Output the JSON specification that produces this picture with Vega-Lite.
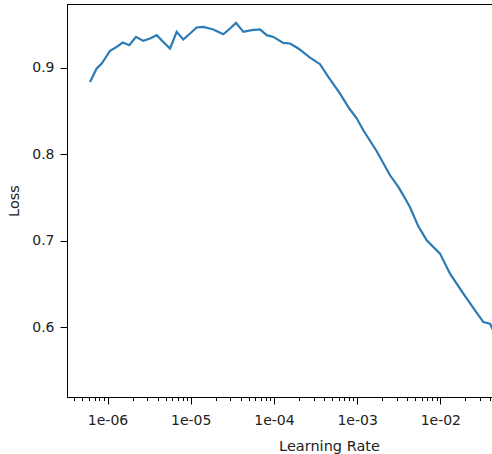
{
  "$schema": "https://vega.github.io/schema/vega-lite/v6.json",
  "autosize": "none",
  "padding": {"left": 67, "top": 4, "right": 0, "bottom": 57},
  "width": 524,
  "height": 393,
  "background": "white",
  "data": {"values": [
    {"lr": 6.162e-7, "loss": 0.8838},
    {"lr": 6.75e-7, "loss": 0.8915},
    {"lr": 7.415e-7, "loss": 0.8993},
    {"lr": 8.517e-7, "loss": 0.9051},
    {"lr": 9.33e-7, "loss": 0.9109},
    {"lr": 1.072e-6, "loss": 0.9197},
    {"lr": 1.29e-6, "loss": 0.9243},
    {"lr": 1.523e-6, "loss": 0.9294},
    {"lr": 1.828e-6, "loss": 0.9263},
    {"lr": 2.2e-6, "loss": 0.9359},
    {"lr": 2.694e-6, "loss": 0.9313},
    {"lr": 3.243e-6, "loss": 0.9341},
    {"lr": 3.903e-6, "loss": 0.9379},
    {"lr": 4.685e-6, "loss": 0.9301},
    {"lr": 5.639e-6, "loss": 0.9225},
    {"lr": 6.787e-6, "loss": 0.9417},
    {"lr": 8.149e-6, "loss": 0.9329},
    {"lr": 9.81e-6, "loss": 0.9398},
    {"lr": 1.181e-5, "loss": 0.9468},
    {"lr": 1.417e-5, "loss": 0.9475},
    {"lr": 1.869e-5, "loss": 0.9445},
    {"lr": 2.465e-5, "loss": 0.939},
    {"lr": 2.968e-5, "loss": 0.9456},
    {"lr": 3.503e-5, "loss": 0.9521},
    {"lr": 4.287e-5, "loss": 0.9417},
    {"lr": 5.41e-5, "loss": 0.9437},
    {"lr": 6.807e-5, "loss": 0.9445},
    {"lr": 8.194e-5, "loss": 0.9379},
    {"lr": 9.835e-5, "loss": 0.9359},
    {"lr": 1.297e-4, "loss": 0.929},
    {"lr": 1.561e-4, "loss": 0.9283},
    {"lr": 1.965e-4, "loss": 0.9225},
    {"lr": 2.716e-4, "loss": 0.912},
    {"lr": 3.582e-4, "loss": 0.9043},
    {"lr": 4.506e-4, "loss": 0.8896},
    {"lr": 6.23e-4, "loss": 0.8703},
    {"lr": 8.057e-4, "loss": 0.853},
    {"lr": 9.89e-4, "loss": 0.8417},
    {"lr": 1.187e-3, "loss": 0.8278},
    {"lr": 1.72e-3, "loss": 0.8035},
    {"lr": 2.486e-3, "loss": 0.7757},
    {"lr": 3.128e-3, "loss": 0.7622},
    {"lr": 3.592e-3, "loss": 0.7525},
    {"lr": 4.323e-3, "loss": 0.7386},
    {"lr": 5.441e-3, "loss": 0.7166},
    {"lr": 6.864e-3, "loss": 0.7004},
    {"lr": 9.917e-3, "loss": 0.685},
    {"lr": 1.308e-2, "loss": 0.6618},
    {"lr": 1.89e-2, "loss": 0.6387},
    {"lr": 2.613e-2, "loss": 0.6193},
    {"lr": 3.288e-2, "loss": 0.6058},
    {"lr": 3.958e-2, "loss": 0.6039},
    {"lr": 4.546e-2, "loss": 0.5915}
  ]},
  "config": {
    "view": {"stroke": "black", "strokeWidth": 1},
    "axis": {
      "grid": false,
      "domainColor": "black",
      "tickColor": "black",
      "labelColor": "#222222",
      "titleColor": "#222222",
      "labelFont": "DejaVu Sans",
      "titleFont": "DejaVu Sans",
      "labelFontSize": 14,
      "titleFontSize": 14.5,
      "titleFontWeight": "normal"
    }
  },
  "mark": {"type": "line", "color": "#2a7ab5", "strokeWidth": 2.2, "clip": true},
  "encoding": {
    "x": {
      "field": "lr", "type": "quantitative",
      "scale": {"type": "log", "domain": [3.26e-7, 0.647], "nice": false},
      "axis": {
        "title": "Learning Rate",
        "values": [4e-7, 5e-7, 6e-7, 7e-7, 8e-7, 9e-7, 1e-6,
                   2e-6, 3e-6, 4e-6, 5e-6, 6e-6, 7e-6, 8e-6, 9e-6, 1e-5,
                   2e-5, 3e-5, 4e-5, 5e-5, 6e-5, 7e-5, 8e-5, 9e-5, 1e-4,
                   2e-4, 3e-4, 4e-4, 5e-4, 6e-4, 7e-4, 8e-4, 9e-4, 1e-3,
                   2e-3, 3e-3, 4e-3, 5e-3, 6e-3, 7e-3, 8e-3, 9e-3, 1e-2,
                   2e-2, 3e-2, 4e-2, 5e-2, 6e-2, 7e-2, 8e-2, 9e-2],
        "labelExpr": "abs(log(datum.value)/LN10 - round(log(datum.value)/LN10)) < 0.001 ? '1e-0' + round(-log(datum.value) / LN10) : ''",
        "tickSize": {"condition": {"test": "abs(log(datum.value)/LN10 - round(log(datum.value)/LN10)) < 0.001", "value": 7}, "value": 3.5},
        "labelPadding": 9,
        "titlePadding": 12,
        "labelFlush": false,
        "labelOverlap": false
      }
    },
    "y": {
      "field": "loss", "type": "quantitative",
      "scale": {"domain": [0.519, 0.974], "nice": false, "zero": false},
      "axis": {
        "title": "Loss",
        "values": [0.6, 0.7, 0.8, 0.9],
        "format": ".1f",
        "tickSize": 7,
        "labelPadding": 6,
        "titlePadding": 10
      }
    }
  }
}
